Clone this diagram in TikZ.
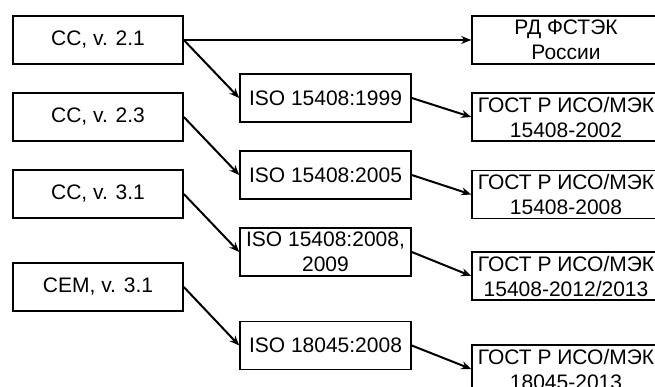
\documentclass[tikz,border=0pt]{standalone}
\usepackage{fontspec}
\setmainfont{Liberation Sans}
\usetikzlibrary{arrows.meta}

\begin{document}
\begin{tikzpicture}[x=1pt,y=-1pt,
		every node/.style={font=\fontsize{21}{25}\selectfont},
		box/.style={draw,line width=1.6pt,minimum height=48pt,inner sep=0pt,align=center},
		src/.style={box,minimum width=170pt},
		iso/.style={box,minimum width=171pt},
		gost/.style={box,minimum width=188pt},
		link/.style={-{Stealth[length=10pt,width=8pt]},line width=2pt}]
		\useasboundingbox (0,0) rectangle (655,387);

		% versions
		\node[src] (cc21) at (98,40) {CC, v. 2.1};
		\node[src] (cc23) at (98,117) {CC, v. 2.3};
		\node[src] (cc31) at (98,194) {CC, v. 3.1};
		\node[src] (cem) at (98,287) {CEM, v. 3.1};

		% ISO
		\node[iso] (iso99) at (325.5,98) {ISO 15408:1999};
		\node[iso] (iso05) at (325.5,175) {ISO 15408:2005};
		\node[iso] (iso08) at (325.5,252) {ISO 15408:2008,\\2009};
		\node[iso] (iso45) at (325.5,345.5) {ISO 18045:2008};

		% national
		\node[gost] (rd) at (566,40) {РД ФСТЭК\\России};
		\node[gost] (gost02) at (566,117) {ГОСТ Р ИСО/МЭК\\15408-2002};
		\node[gost] (gost08) at (566,194.5) {ГОСТ Р ИСО/МЭК\\15408-2008};
		\node[gost] (gost12) at (566,276) {ГОСТ Р ИСО/МЭК\\15408-2012/2013};
		\node[gost] (gost13) at (566,369) {ГОСТ Р ИСО/МЭК\\18045-2013};

		\draw[link] (cc21.east) -- (rd.west);
		\draw[link] (cc21.east) -- (iso99.west);
		\draw[link] (cc23.east) -- (iso05.west);
		\draw[link] (cc31.east) -- (iso08.west);
		\draw[link] (cem.east) -- (iso45.west);

		\draw[link] (iso99.east) -- (gost02.west);
		\draw[link] (iso05.east) -- (gost08.west);
		\draw[link] (iso08.east) -- (gost12.west);
		\draw[link] (iso45.east) -- (gost13.west);
	\end{tikzpicture}
\end{document}
